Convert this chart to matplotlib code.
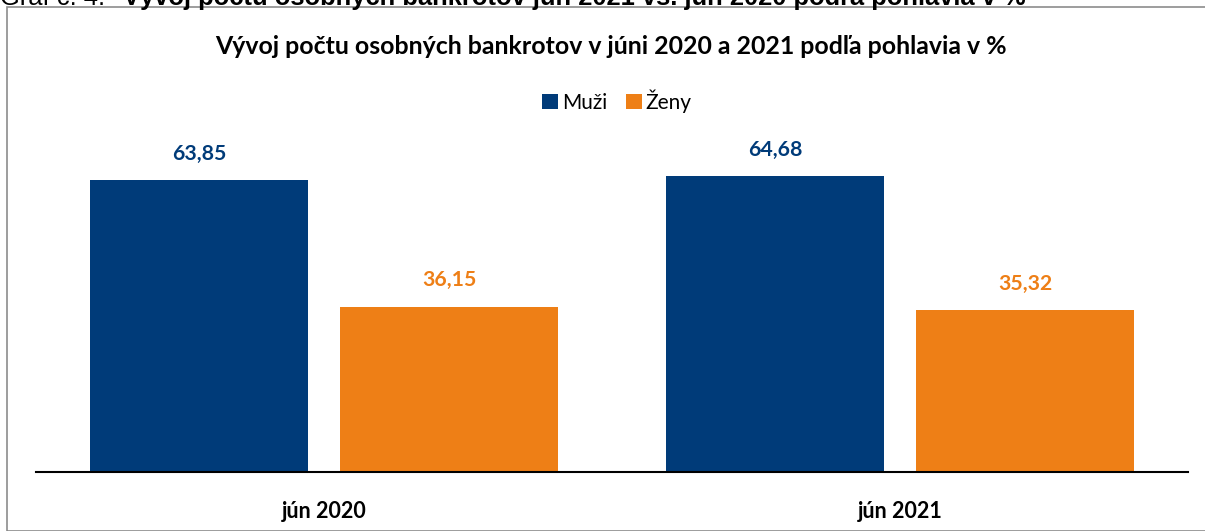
import matplotlib.pyplot as plt
import numpy as np
from matplotlib.patches import Rectangle

plt.rcParams['font.family'] = ['Lato', 'DejaVu Sans']

# data
categories = ['jún 2020', 'jún 2021']
muzi = [63.85, 64.68]
zeny = [36.15, 35.32]
labels_muzi = ['63,85', '64,68']
labels_zeny = ['36,15', '35,32']

C_MUZI = '#003B79'
C_ZENY = '#EE7F16'

W, H = 1205, 531
fig = plt.figure(figsize=(W/100, H/100), dpi=100)

# outer frame of the chart
fig.patches.append(Rectangle((7/W, 0), 1.2, (H-7)/H, transform=fig.transFigure,
                             fill=False, edgecolor='#8c8c8c', lw=1.2))

# caption above the frame (cut off at the top like in the source)
fig.text(0, 1 - 5/H, 'Graf č. 4:', fontsize=18.4, family=['Liberation Sans'],
         ha='left', va='baseline')
fig.text(123/W, 1 - 5/H,
         'Vývoj počtu osobných bankrotov jún 2021 vs. jún 2020 podľa pohlavia v %',
         fontsize=18.4, family=['Liberation Sans'], weight='bold', ha='left', va='baseline')

ax = fig.add_axes([36/W, (H-472)/H, 1152/W, 332/H])
x = np.arange(len(categories))
off, bw = 0.217, 0.379
b1 = ax.bar(x - off, muzi, bw, color=C_MUZI, label='Muži')
b2 = ax.bar(x + off, zeny, bw, color=C_ZENY, label='Ženy')

for xi, v, t in zip(x, muzi, labels_muzi):
    ax.text(xi - off, v + 3.6, t, ha='center', va='bottom', fontsize=15.3,
            weight='bold', color=C_MUZI)
for xi, v, t in zip(x, zeny, labels_zeny):
    ax.text(xi + off, v + 3.6, t, ha='center', va='bottom', fontsize=15.3,
            weight='bold', color=C_ZENY)

ax.set_xlim(-0.5, 1.5)
ax.set_ylim(0, 332/4.573)
ax.set_xticks(x)
ax.set_xticklabels(categories, fontsize=15.5, weight='bold')
ax.tick_params(axis='x', length=0, pad=21)
ax.set_yticks([])
for s in ['top', 'right', 'left']:
    ax.spines[s].set_visible(False)
ax.spines['bottom'].set_linewidth(1.5)
ax.spines['bottom'].set_color('black')

fig.text(611/W, 1 - 47/H, 'Vývoj počtu osobných bankrotov v júni 2020 a 2021 podľa pohlavia v %',
         ha='center', va='center', fontsize=17.9, weight='bold')

fig.legend(handles=[b1, b2], loc='center', bbox_to_anchor=(617/W, 1 - 101/H),
           ncol=2, frameon=False, fontsize=15, handlelength=0.75, handleheight=0.75,
           handletextpad=0.2, columnspacing=0.9)

fig.savefig('out.png', dpi=100)
